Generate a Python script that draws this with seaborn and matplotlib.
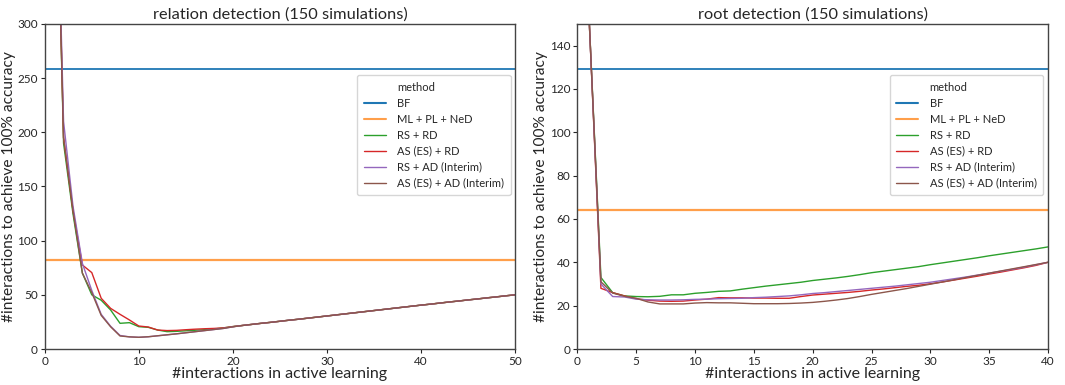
import matplotlib
matplotlib.use("Agg")
import matplotlib.pyplot as plt
from matplotlib.lines import Line2D
import seaborn as sns
import pandas as pd

sns.set_style("ticks")
plt.rcParams['font.family'] = ['Lato', 'DejaVu Sans']

methods = ["BF", "ML + PL + NeD", "RS + RD", "AS (ES) + RD", "RS + AD (Interim)", "AS (ES) + AD (Interim)"]
colors = ["#1f77b4", "#ff9f4a", "#2ca02c", "#d62728", "#9467bd", "#8c564b"]

# ---- relation detection ----
rel_bf = 258
rel_ml = 82
rel_x = list(range(1, 51))
rel_tail = [21.7, 22.7, 23.7, 24.6, 25.6, 26.6, 27.5, 28.5, 29.5, 30.5,
            31.5, 32.5, 33.5, 34.5, 35.5, 36.5, 37.5, 38.5, 39.5, 40.5,
            41.4, 42.4, 43.4, 44.3, 45.3, 46.2, 47.2, 48.1, 49.1, 50.0]
rel_rs_rd = [550, 190, 125, 70, 50, 45, 36, 23.7, 24.3, 20.6,
             20.0, 17.5, 16.0, 16.3, 16.8, 17.3, 17.8, 18.5, 19.5, 20.7] + rel_tail
rel_as_rd = [550, 195, 128, 77.5, 70.5, 46.8, 37.5, 32.0, 26.8, 21.2,
             20.3, 17.5, 17.0, 17.2, 17.8, 18.3, 18.7, 19.0, 19.5, 20.7] + rel_tail
rel_rs_ad = [550, 210, 132, 79, 54, 32, 21, 12.5, 11.2, 10.8,
             11.3, 12.2, 13.1, 14.0, 15.0, 16.0, 17.0, 18.0, 19.0, 20.5] + rel_tail
rel_as_ad = [550, 195, 128, 70, 52, 31, 20.5, 12.0, 11.2, 10.8,
             11.3, 12.2, 13.1, 14.0, 15.0, 16.0, 17.0, 18.0, 19.0, 20.5] + rel_tail

# ---- root detection ----
root_bf = 129
root_ml = 64
root_x = list(range(1, 41))
root_rs_rd = [152, 33, 26, 24.5, 24.2, 24.1, 24.3, 25, 25, 25.7,
              26.1, 26.6, 26.8, 27.6, 28.3, 29, 29.6, 30.2, 30.8, 31.6,
              32.2, 32.8, 33.5, 34.3, 35.2, 35.9, 36.6, 37.3, 38, 38.9,
              39.7, 40.5, 41.3, 42.1, 43, 43.8, 44.6, 45.4, 46.2, 47.1]
root_as_rd = [152, 28, 26, 24.5, 23.2, 22.5, 22.1, 22.0, 22.1, 22.6,
              23, 23.7, 23.6, 23.6, 23.5, 23.5, 23.4, 23.4, 24.2, 24.9,
              25.3, 25.7, 26.1, 26.6, 27.2, 27.7, 28.3, 28.9, 29.4, 30.1,
              30.9, 31.8, 32.7, 33.6, 34.6, 35.5, 36.5, 37.5, 38.6, 40]
root_rs_ad = [152, 30, 24.2, 24, 23, 22.7, 22.6, 22.6, 22.7, 22.9,
              23, 23.2, 23.3, 23.4, 23.7, 23.9, 24.2, 24.5, 25, 25.6,
              26, 26.5, 27, 27.5, 28, 28.5, 29, 29.6, 30.2, 30.8,
              31.6, 32.4, 33.2, 34.1, 35, 35.9, 36.8, 37.8, 38.9, 40]
root_as_ad = [152, 31, 25.8, 24.3, 23.4, 21.7, 20.8, 20.8, 20.8, 21.2,
              21.4, 21.3, 21.3, 21.1, 20.9, 20.9, 20.9, 21, 21.2, 21.5,
              22, 22.6, 23.3, 24.2, 25.2, 26.1, 27, 27.9, 28.9, 29.9,
              30.9, 31.9, 33, 34, 35, 36, 37, 38, 39, 40]


def make_df(x, series):
    rows = []
    for name, vals in zip(methods[2:], series):
        for xi, yi in zip(x, vals):
            rows.append({"x": xi, "y": yi, "method": name})
    return pd.DataFrame(rows)


panels = [
    dict(title="relation detection (150 simulations)", x=rel_x, bf=rel_bf, ml=rel_ml,
         series=[rel_rs_rd, rel_as_rd, rel_rs_ad, rel_as_ad], xlim=(0, 50), ylim=(0, 300),
         xticks=range(0, 51, 10), yticks=range(0, 301, 50)),
    dict(title="root detection (150 simulations)", x=root_x, bf=root_bf, ml=root_ml,
         series=[root_rs_rd, root_as_rd, root_rs_ad, root_as_ad], xlim=(0, 40), ylim=(0, 150),
         xticks=range(0, 41, 5), yticks=range(0, 141, 20)),
]

fig, axes = plt.subplots(1, 2, figsize=(10.65, 3.85), dpi=100)
fig.subplots_adjust(left=0.042, right=0.984, top=0.938, bottom=0.0935, wspace=0.132)

palette = dict(zip(methods, colors))
for ax, p in zip(axes, panels):
    ax.axhline(p["bf"], color=palette["BF"], lw=1.3)
    ax.axhline(p["ml"], color=palette["ML + PL + NeD"], lw=1.6)
    df = make_df(p["x"], p["series"])
    sns.lineplot(data=df, x="x", y="y", hue="method", hue_order=methods[2:],
                 palette=palette, ax=ax, lw=1.0, legend=False)
    ax.set_xlim(*p["xlim"])
    ax.set_ylim(*p["ylim"])
    ax.set_xticks(list(p["xticks"]))
    ax.set_yticks(list(p["yticks"]))
    ax.tick_params(labelsize=8.5, length=3, width=0.8, pad=2)
    ax.set_title(p["title"], fontsize=11.8, pad=4)
    ax.set_xlabel("#interactions in active learning", fontsize=11.5, labelpad=0)
    ax.set_ylabel("#interactions to achieve 100% accuracy", fontsize=11.2, labelpad=1)
    for s in ax.spines.values():
        s.set_color("#444444")
        s.set_linewidth(1.0)
    handles = [Line2D([], [], color="none")] + [
        Line2D([], [], color=palette[m], lw=1.5 if i < 2 else 1.0) for i, m in enumerate(methods)]
    labels = ["method"] + methods
    ax.legend(handles, labels, loc="upper right", bbox_to_anchor=(0.99, 0.843),
              borderaxespad=0, fontsize=8, frameon=True, handlelength=2.0, borderpad=0.6,
              labelspacing=0.45, handletextpad=1.0)

fig.savefig("out.png", dpi=100)
